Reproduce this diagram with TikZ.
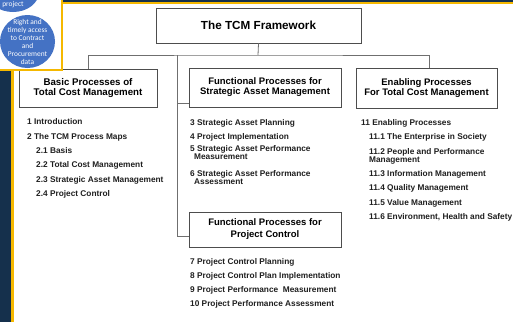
\documentclass[tikz,border=0pt]{standalone}
\usepackage{fontspec}
\setmainfont{Liberation Sans}
\newfontfamily\bubblefont{Carlito}
\usetikzlibrary{positioning}
\definecolor{navy}{HTML}{15304C}
\definecolor{gold}{HTML}{F5B800}
\definecolor{bubble}{HTML}{4472C4}
\definecolor{boxline}{HTML}{4D4D4D}
\definecolor{wire}{HTML}{6F6F6F}
\tikzset{
procbox/.style = {draw=boxline, line width=0.8pt, fill=white, align=center, inner sep=0pt,
  font=\bfseries\fontsize{9.5}{10}\selectfont},
entry/.style = {anchor=west, inner sep=0pt, align=left, text=black!88,
  font=\bfseries\fontsize{8.3}{8}\selectfont},
wires/.style = {draw=wire, line width=0.8pt}
}

\begin{document}
\begin{tikzpicture}[x=1pt, y=-1pt]
\useasboundingbox (0,0) rectangle (513,322);
% frame of the slide
\fill[navy] (0,0) rectangle (11,322);
\fill[gold] (11,0) rectangle (13.5,322);
\fill[navy] (0,0) rectangle (513,2);
\fill[gold] (0,2) rectangle (513,3.5);

% boxes
\node [procbox, minimum width=205pt, minimum height=35pt,
  font=\bfseries\fontsize{11.7}{13}\selectfont] (tcm) at (258.5,25.5) {The TCM Framework};
\node [procbox, minimum width=138pt, minimum height=38pt,
  font=\bfseries\fontsize{9.7}{10.5}\selectfont] (basic) at (88,88) {Basic Processes of\\Total Cost Management};
\node [procbox, minimum width=152pt, minimum height=39pt] (sam) at (265,87.5)
  {Functional Processes for\\Strategic Asset Management};
\node [procbox, minimum width=141pt, minimum height=40pt] (enab) at (426.5,88)
  {Enabling Processes\\For Total Cost Management};
\node [procbox, minimum width=152pt, minimum height=35pt,
  font=\bfseries\fontsize{9.5}{12}\selectfont] (pc) at (265,229.5)
  {Functional Processes for\\Project Control};

% connectors
\coordinate (bus) at (258,55);
\coordinate (spine) at (177,55);
\draw [wires] (tcm.south) -- (bus);
\draw [wires] (basic.north) |- (bus) -| ([xshift=2.5pt]enab.north);
\draw [wires] (spine) |- ([yshift=-6.5pt]pc.west);
\draw [wires] ([yshift=-15.5pt]sam.west) -| (spine);

% basic processes
\node [entry] (b1) at (27,122) {1 Introduction};
\node [entry] (b2) at (27,137) {2 The TCM Process Maps};
\node [entry] (b21) at (36,151) {2.1 Basis};
\node [entry] (b22) at (36,165) {2.2 Total Cost Management};
\node [entry] (b23) at (36,180) {2.3 Strategic Asset Management};
\node [entry] (b24) at (36,194) {2.4 Project Control};

% strategic asset management
\node [entry] (s3) at (190,123) {3 Strategic Asset Planning};
\node [entry] (s4) at (190,137) {4 Project Implementation};
\node [entry] (s5) at (190,153) {5 Strategic Asset Performance\\\hspace{4pt}Measurement};
\node [entry] (s6) at (190,177.5) {6 Strategic Asset Performance\\\hspace{4pt}Assessment};

% project control
\node [entry] (p7) at (190,262) {7 Project Control Planning};
\node [entry] (p8) at (190,276) {8 Project Control Plan Implementation};
\node [entry] (p9) at (190,290) {9 Project Performance\ \ Measurement};
\node [entry] (p10) at (190,304) {10 Project Performance Assessment};

% enabling processes
\node [entry] (e11) at (361,123) {11 Enabling Processes};
\node [entry] (e1) at (369,137) {11.1 The Enterprise in Society};
\node [entry] (e2) at (369,156) {11.2 People and Performance\\Management};
\node [entry] (e3) at (369,174) {11.3 Information Management};
\node [entry] (e4) at (369,188) {11.4 Quality Management};
\node [entry] (e5) at (369,203) {11.5 Value Management};
\node [entry] (e6) at (369,217) {11.6 Environment, Health and Safety};

% overlapping slide panel
\fill[white] (0,0) rectangle (62,69.5);
\begin{scope}
\clip (0,0) rectangle (62,69.5);
\fill[bubble] (13,-8) ellipse [x radius=26pt, y radius=20pt];
\fill[bubble] (27.5,41.5) ellipse [x radius=27.5pt, y radius=26.5pt];
\end{scope}
\draw[gold, line width=2pt] (-2,69.5) -- (62,69.5) -- (62,-2);
\node [text=white, inner sep=0pt, font=\bubblefont\fontsize{7.4}{8}\selectfont] (bproj) at (13,4.5) {project};
\node [text=white, inner sep=0pt, align=center, font=\bubblefont\fontsize{7.4}{8}\selectfont] (bdata) at (27.5,41.5)
  {Right and\\timely access\\to Contract\\and\\Procurement\\data};
\end{tikzpicture}
\end{document}
